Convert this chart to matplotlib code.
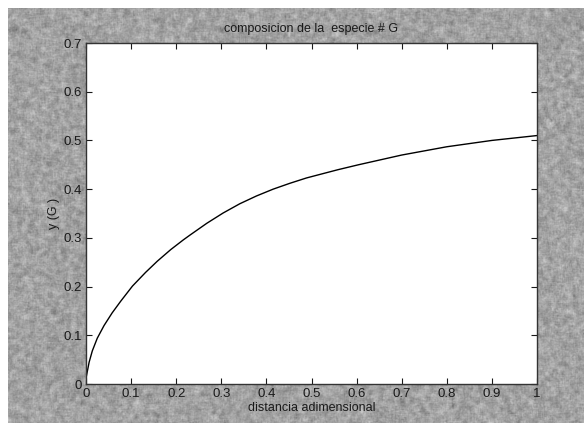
import numpy as np
import matplotlib
matplotlib.use("Agg")
import matplotlib.pyplot as plt

# Composition profile of species G along the dimensionless distance
distancia = [0.0, 0.007, 0.014, 0.025, 0.040, 0.058, 0.077, 0.103, 0.132,
             0.158, 0.188, 0.216, 0.231, 0.268, 0.304, 0.341, 0.378, 0.415,
             0.452, 0.489, 0.526, 0.559, 0.604, 0.70, 0.80, 0.90, 1.00]
y_G = [0.012, 0.045, 0.068, 0.094, 0.120, 0.146, 0.170, 0.201, 0.229,
       0.252, 0.276, 0.296, 0.306, 0.330, 0.351, 0.370, 0.386, 0.400,
       0.412, 0.423, 0.432, 0.440, 0.450, 0.470, 0.487, 0.500, 0.510]

x_ticks = [0, 0.1, 0.2, 0.3, 0.4, 0.5, 0.6, 0.7, 0.8, 0.9, 1]
x_ticklabels = ["0", "0.1", "0.2", "0.3", "0.4", "0.5", "0.6", "0.7", "0.8", "0.9", "1"]
y_ticks = [0, 0.1, 0.2, 0.3, 0.4, 0.5, 0.6, 0.7]
y_ticklabels = ["0", "0.1", "0.2", "0.3", "0.4", "0.5", "0.6", "0.7"]

W, H = 584, 423
plt.rcParams["font.family"] = ["Liberation Sans", "DejaVu Sans"]
fig = plt.figure(figsize=(W / 100, H / 100), dpi=100, facecolor="white")


def box_blur(a, k):
    """Separable box blur of a 2-D array."""
    kern = np.ones(k) / k
    a = np.apply_along_axis(lambda r: np.convolve(r, kern, mode="same"), 1, a)
    a = np.apply_along_axis(lambda c: np.convolve(c, kern, mode="same"), 0, a)
    return a


# grey figure panel with a soft, grainy print texture; white paper margin
rng = np.random.default_rng(7)
coarse = box_blur(rng.normal(0, 1, (H + 10, W + 10)), 5)[5:H + 5, 5:W + 5]
coarse /= coarse.std()
fine = box_blur(rng.normal(0, 1, (H + 4, W + 4)), 2)[2:H + 2, 2:W + 2]
fine /= fine.std()
tex = np.clip(0.635 + 0.035 * coarse + 0.02 * fine, 0, 1)
margin = 8
tex[:margin, :] = 1.0
tex[:, :margin] = 1.0
fig.figimage(np.dstack([tex, tex, tex]), xo=0, yo=0, origin="upper", zorder=0)

ax = fig.add_axes([86 / W, (H - 384) / H, 451 / W, 341 / H], zorder=2)
ax.set_facecolor("white")
ax.plot(distancia, y_G, color="black", lw=1.0)

ax.set_xlim(0, 1)
ax.set_ylim(0, 0.7)
ax.set_xticks(x_ticks)
ax.set_xticklabels(x_ticklabels)
ax.set_yticks(y_ticks)
ax.set_yticklabels(y_ticklabels)
ax.tick_params(direction="in", length=4, width=0.8, top=True, right=True,
               labelsize=9.5, colors="#1a1a1a", pad=3)
for s in ax.spines.values():
    s.set_linewidth(1.0)
    s.set_color("#333333")

ax.set_title("composicion de la  especie # G", fontsize=9, color="#1a1a1a", pad=8)
ax.set_xlabel("distancia adimensional", fontsize=9, color="#1a1a1a", labelpad=1)
ax.set_ylabel("y (G )", fontsize=9, color="#1a1a1a")
ax.yaxis.set_label_coords(-26 / 451, 0.5)

fig.savefig("out.png", dpi=100, facecolor="white")
